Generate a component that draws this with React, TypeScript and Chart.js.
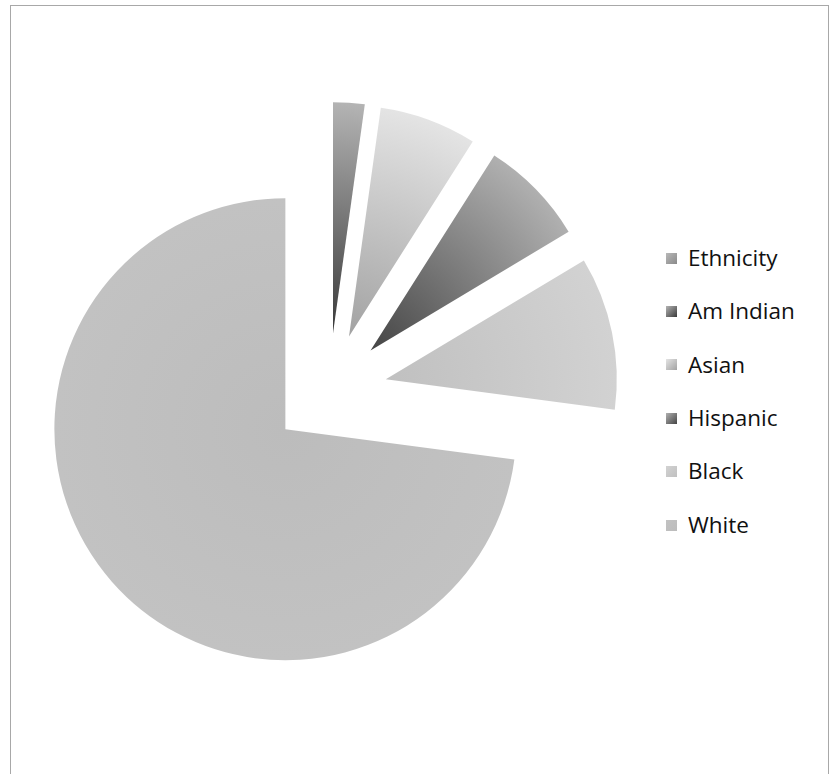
import React, { useEffect, useRef } from "react";
import { Chart, registerables } from "chart.js";

Chart.register(...registerables);

// ---- data ----
const categories = ["Ethnicity", "Am Indian", "Asian", "Hispanic", "Black", "White"];
const shares = [0, 2.2, 6.8, 7.4, 10.7, 72.9];

// ---- styles ----
const innerColors = ["#8a8a8a", "#3a3a3a", "#a2a2a2", "#454545", "#c0c0c0", "#bcbcbc"];
const outerColors = ["#b8b8b8", "#b4b4b4", "#e4e4e4", "#b0b0b0", "#d2d2d2", "#c2c2c2"];
const RADIUS = 231;
const EXPLODE = 58;

const explodePlugin = {
  id: "explodeSlices",
  beforeDatasetsDraw(chart: any) {
    chart.getSortedVisibleDatasetMetas().forEach((meta: any) => {
      meta.data.forEach((arc: any) => {
        if (arc.__exploded) return;
        const base = arc.draw;
        arc.draw = function (ctx: CanvasRenderingContext2D, area: any) {
          const mid = (this.startAngle + this.endAngle) / 2;
          ctx.save();
          ctx.translate(Math.cos(mid) * EXPLODE, Math.sin(mid) * EXPLODE);
          base.call(this, ctx, area);
          ctx.restore();
        };
        arc.__exploded = true;
      });
    });
  },
};

export default function App() {
  const ref = useRef<HTMLCanvasElement | null>(null);

  useEffect(() => {
    if (!ref.current) return;
    const chart = new Chart(ref.current, {
      type: "pie",
      data: {
        labels: categories,
        datasets: [
          {
            data: shares,
            borderWidth: 0,
            radius: RADIUS,
            clip: false,
            backgroundColor: (c: any) => {
              const i = c.dataIndex;
              const chartRef = c.chart;
              const area = chartRef.chartArea;
              if (!area) return outerColors[i];
              const cx = (area.left + area.right) / 2;
              const cy = (area.top + area.bottom) / 2;
              const g = chartRef.ctx.createRadialGradient(cx, cy, 0, cx, cy, RADIUS);
              g.addColorStop(0, innerColors[i]);
              g.addColorStop(1, outerColors[i]);
              return g;
            },
          } as any,
        ],
      },
      options: {
        animation: false,
        responsive: true,
        maintainAspectRatio: false,
        events: [],
        layout: { padding: { top: 8, left: 0, right: 0, bottom: 0 } },
        plugins: {
          legend: { display: false },
          tooltip: { enabled: false },
        },
      },
      plugins: [explodePlugin],
    });
    return () => chart.destroy();
  }, []);

  const FIRST_TOP = 238;
  const STEP = 53.4;

  return (
    <div
      style={{
        position: "fixed",
        left: 0,
        top: 0,
        width: 833,
        height: 774,
        overflow: "hidden",
        background: "#fff",
      }}
    >
      <div
        style={{
          position: "absolute",
          left: 10,
          top: 5,
          width: 819,
          height: 820,
          border: "1px solid #a8a8a8",
          boxSizing: "border-box",
        }}
      />
      <div style={{ position: "absolute", left: 0, top: 0, width: 658, height: 774 }}>
        <canvas ref={ref} />
      </div>
      {categories.map((name, i) => (
        <div
          key={name}
          style={{
            position: "absolute",
            left: 666,
            top: FIRST_TOP + i * STEP,
            height: 40,
            display: "flex",
            alignItems: "center",
            fontFamily: "'Open Sans', sans-serif",
            fontSize: 22.5,
            color: "#111",
          }}
        >
          <span
            style={{
              display: "inline-block",
              width: 11,
              height: 11,
              marginRight: 11,
              background: `linear-gradient(135deg, ${outerColors[i]}, ${innerColors[i]})`,
            }}
          />
          <span style={{ lineHeight: 1 }}>{name}</span>
        </div>
      ))}
    </div>
  );
}
